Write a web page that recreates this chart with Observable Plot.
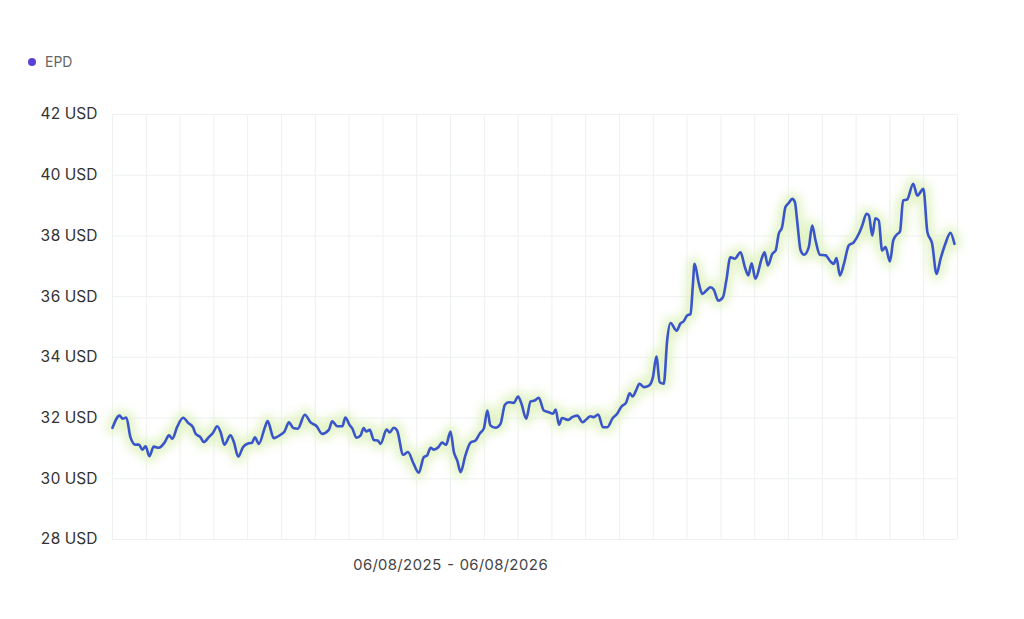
<!DOCTYPE html>
<html>
<head>
<meta charset="utf-8">
<script src="https://cdn.jsdelivr.net/npm/d3@7"></script>
<script src="https://cdn.jsdelivr.net/npm/@observablehq/plot@0.6"></script>
<style>
  html, body { margin: 0; padding: 0; background: #fff; }
  #legend { position: relative; height: 90px; font-family: Inter, "Noto Sans", sans-serif; }
  #legend .dot { position: absolute; left: 28px; top: 58px; width: 8px; height: 8px; border-radius: 50%; background: #5b41d6; }
  #legend .lbl { position: absolute; left: 45px; top: 53px; font-size: 14px; color: #666; }
</style>
</head>
<body>
<div id="legend"><span class="dot"></span><span class="lbl">EPD</span></div>
<div id="chart"></div>
<script>
const seriesName = "EPD";
const rangeLabel = "06/08/2025 - 06/08/2026";
const yTicks = [28, 30, 32, 34, 36, 38, 40, 42];
const xGrid = d3.range(0, 251, 10);

// trading-day index (0..250 over the year) and closing price in USD
const dayIndex = [
  0, 2.1, 3.0, 4.1, 5.3, 6.8, 7.8, 8.8, 9.8, 10.9, 12.2, 13.7, 15.5, 16.7, 17.7, 19.1, 20.9, 22.4, 23.8, 24.6,
  26.0, 27.0, 28.5, 29.7, 31.0, 32.0, 33.1, 34.9, 35.9, 37.2, 38.6, 40.3, 41.3, 42.1, 43.3, 45.1, 45.9, 47.7, 49.7, 50.9,
  52.2, 53.5, 54.8, 56.9, 58.6, 60.4, 62.0, 64.0, 65.0, 66.5, 68.0, 68.9, 70.2, 70.9, 72.2, 73.4, 74.3, 75.1, 76.1, 77.3,
  78.5, 79.3, 81.1, 82.0, 83.2, 84.2, 86.0, 87.4, 89.1, 90.6, 92.1, 93.1, 94.1, 95.1, 96.4, 97.5, 98.7, 100.0, 101.0, 102.0,
  103.0, 104.4, 105.9, 107.4, 108.6, 109.9, 110.9, 111.8, 113.3, 114.8, 116.1, 117.2, 118.7, 120.0, 121.0, 122.4, 123.7, 124.9, 126.1, 127.6,
  129.1, 130.3, 131.1, 132.1, 133.0, 134.8, 136.0, 137.5, 139.1, 140.4, 141.4, 142.4, 143.7, 145.1, 146.4, 148.0, 149.3, 150.6, 152.0, 153.0,
  153.9, 154.9, 155.9, 157.2, 158.7, 159.9, 160.9, 161.9, 163.1, 164.1, 165.1, 166.9, 168.0, 169.0, 170.0, 171.0, 171.7, 172.2, 173.5, 174.5,
  175.7, 176.9, 177.9, 179.2, 180.6, 181.6, 182.8, 184.1, 185.8, 187.1, 188.1, 189.1, 190.2, 192.2, 192.9, 193.9, 195.2, 196.2, 197.1, 198.1,
  199.1, 200.1, 201.1, 201.9, 202.6, 203.6, 204.6, 206.0, 207.0, 208.0, 209.3, 211.0, 212.4, 213.4, 214.2, 215.2, 216.4, 217.8, 219.3, 220.8,
  221.8, 223.1, 223.8, 224.8, 225.7, 226.7, 227.7, 228.7, 230.0, 231.0, 232.0, 233.0, 233.9, 235.1, 236.9, 238.1, 239.9, 241.1, 242.5, 243.8,
  245.0, 246.4, 247.9, 249.1
];
const price = [
  31.68, 32.08, 31.98, 32.02, 31.37, 31.12, 31.13, 30.96, 31.07, 30.74, 31.06, 31.02, 31.21, 31.43, 31.32, 31.70, 32.01, 31.84, 31.70, 31.48,
  31.37, 31.21, 31.37, 31.51, 31.73, 31.53, 31.12, 31.43, 31.21, 30.73, 31.04, 31.17, 31.19, 31.37, 31.15, 31.70, 31.90, 31.34, 31.45, 31.56,
  31.86, 31.67, 31.65, 32.11, 31.86, 31.73, 31.48, 31.61, 31.89, 31.73, 31.73, 32.02, 31.76, 31.67, 31.35, 31.43, 31.67, 31.56, 31.61, 31.28,
  31.26, 31.15, 31.62, 31.53, 31.68, 31.59, 30.79, 30.88, 30.49, 30.20, 30.71, 30.77, 31.02, 30.96, 31.04, 31.19, 31.12, 31.56, 30.88, 30.60,
  30.22, 30.77, 31.19, 31.26, 31.48, 31.67, 32.25, 31.76, 31.68, 31.81, 32.44, 32.52, 32.50, 32.71, 32.47, 31.98, 32.55, 32.58, 32.67, 32.25,
  32.19, 32.14, 32.28, 31.78, 32.00, 31.94, 32.03, 32.08, 31.86, 31.98, 32.06, 32.03, 32.12, 31.70, 31.70, 32.00, 32.14, 32.38, 32.52, 32.82,
  32.71, 32.91, 33.13, 33.02, 33.07, 33.35, 34.03, 33.18, 33.13, 34.56, 35.13, 34.88, 35.11, 35.19, 35.38, 35.43, 36.37, 37.08, 36.42, 36.09,
  36.20, 36.31, 36.23, 35.87, 35.98, 36.53, 37.30, 37.25, 37.46, 36.97, 36.70, 37.10, 36.59, 37.30, 37.46, 37.03, 37.41, 37.52, 38.07, 38.29,
  38.95, 39.09, 39.22, 39.11, 38.45, 37.52, 37.38, 37.63, 38.34, 37.85, 37.38, 37.36, 37.16, 37.08, 37.27, 36.70, 37.08, 37.68, 37.79, 38.07,
  38.34, 38.73, 38.67, 38.01, 38.58, 38.51, 37.52, 37.63, 37.16, 37.85, 38.04, 38.15, 39.17, 39.20, 39.72, 39.33, 39.55, 38.12, 37.74, 36.75,
  37.25, 37.74, 38.10, 37.74
];

const data = dayIndex.map((d, i) => ({x: d, y: price[i]}));

const plot = Plot.plot({
  width: 1024,
  height: 500,
  marginLeft: 112,
  marginRight: 67,
  marginTop: 24,
  marginBottom: 51,
  style: {fontFamily: "Inter, 'Noto Sans', sans-serif", fontSize: "15px", color: "#333", background: "#fff"},
  x: {domain: [0, 250], label: null},
  y: {domain: [28, 42], label: null},
  marks: [
    Plot.ruleX(xGrid, {stroke: "#eef1f1", strokeWidth: 1}),
    Plot.ruleY(yTicks, {stroke: "#eef1f1", strokeWidth: 1}),
    Plot.axisY({ticks: yTicks, tickFormat: d => `${d} USD`, tickSize: 0, tickPadding: 15, fontSize: 15.5, label: null}),
    Plot.axisX({ticks: [100], tickFormat: () => rangeLabel, tickSize: 0, tickPadding: 20, fontSize: 15, fill: "#444", label: null}),
    Plot.line(data, {x: "x", y: "y", stroke: "#dff2c0", strokeWidth: 13, strokeOpacity: 0.85, curve: "monotone-x"}),
    Plot.line(data, {x: "x", y: "y", stroke: "#3a55c9", strokeWidth: 2.6, curve: "monotone-x"})
  ]
});
document.getElementById("chart").appendChild(plot);
const lines = plot.querySelectorAll('g[aria-label="line"]');
if (lines.length) lines[0].style.filter = "blur(5px)";
</script>
</body>
</html>
